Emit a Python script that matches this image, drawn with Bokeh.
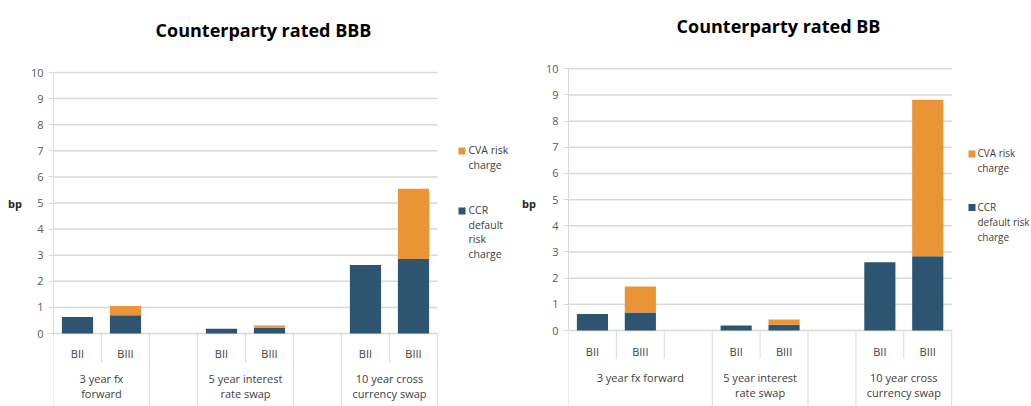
from bokeh.plotting import figure
from bokeh.layouts import row
from bokeh.models import Range1d, FixedTicker, ColumnDataSource
from bokeh.core.properties import value
from bokeh.embed import file_html
from bokeh.resources import INLINE

# ---------------- data ----------------
sub_labels = ["BII", "BIII", "", "BII", "BIII", "", "BII", "BIII"]
series_names = ["CCR\ndefault\nrisk\ncharge", "CVA risk\ncharge"]
series_names_bb = ["CCR\ndefault risk\ncharge", "CVA risk\ncharge"]

bbb_groups = ["3 year fx\nforward", "", "5 year interest\nrate swap", "", "10 year cross\ncurrency swap"]
bbb_group_spans = [2, 1, 2, 1, 2]
bbb_ccr = [0.63, 0.70, 0.0, 0.18, 0.22, 0.0, 2.62, 2.85]
bbb_cva = [0.0, 0.35, 0.0, 0.0, 0.09, 0.0, 0.0, 2.70]

bb_groups = ["3 year fx forward", "5 year interest\nrate swap", "", "10 year cross\ncurrency swap"]
bb_group_spans = [3, 2, 1, 2]
bb_ccr = [0.63, 0.69, 0.0, 0.19, 0.22, 0.0, 2.61, 2.84]
bb_cva = [0.0, 0.99, 0.0, 0.0, 0.20, 0.0, 0.0, 5.98]

y_ticks = list(range(0, 11))

# ---------------- style ----------------
NAVY = "#2D5572"
ORANGE = "#EA9438"
GRID = "#D9D9D9"
TXT = "#404040"
FONT = "Open Sans"
FIG_H = 406


def make_chart(title, groups, spans, ccr, cva, names, L):
    fig_w = L["fig_w"]
    border_left = L["axis_x"] - L["fig_x"]
    frame_w = fig_w - border_left
    slot = L["slot"]
    unit = L["unit"]
    zero = L["zero_y"]
    top_page = 0
    bottom_page = FIG_H

    x_end = frame_w / slot
    y_end = (zero - top_page) / unit
    y_start = -(bottom_page - zero) / unit

    def dx(px):
        return (px - L["axis_x"]) / slot

    def dy(py):
        return (zero - py) / unit

    p = figure(width=fig_w, height=FIG_H, output_backend="svg", toolbar_location=None,
               x_range=Range1d(0, x_end), y_range=Range1d(y_start, y_end),
               x_axis_location=None, y_axis_location="left",
               min_border_left=border_left, min_border_right=0,
               min_border_top=0, min_border_bottom=0)
    p.outline_line_color = None
    p.grid.visible = False

    # y axis
    ax = p.yaxis[0]
    ax.ticker = FixedTicker(ticks=y_ticks)
    ax.bounds = (0, 10)
    ax.axis_line_color = GRID
    ax.major_tick_line_color = GRID
    ax.major_tick_out = 5
    ax.major_tick_in = 0
    ax.minor_tick_line_color = None
    ax.major_label_standoff = 5
    ax.major_label_text_font = FONT
    ax.major_label_text_font_size = "11px"
    ax.major_label_text_color = "#595959"
    ax.axis_label = "bp"
    ax.axis_label_orientation = "horizontal"
    ax.axis_label_standoff = L["lab_standoff"]
    ax.axis_label_text_font = FONT
    ax.axis_label_text_font_style = "bold"
    ax.axis_label_text_font_size = "11px"
    ax.axis_label_text_color = "#262626"

    n = len(ccr)
    # gridlines (value levels) across the category area
    p.segment(x0=[0] * len(y_ticks), x1=[n] * len(y_ticks), y0=y_ticks, y1=y_ticks,
              line_color=GRID, line_width=1.5)

    # stacked bars
    src = ColumnDataSource(dict(x=[i + 0.5 for i in range(n)], ccr=ccr, cva=cva))
    p.vbar_stack(["ccr", "cva"], x="x", width=0.65, source=src,
                 color=[NAVY, ORANGE], line_color=None)

    # category axis separators
    long_x = [0]
    short_x = []
    pos = 0
    for s in spans:
        for k in range(1, s):
            short_x.append(pos + k)
        pos += s
        long_x.append(pos)
    short_bottom = dy(L["short_end"])
    p.segment(x0=short_x, x1=short_x, y0=[0] * len(short_x), y1=[short_bottom] * len(short_x),
              line_color=GRID, line_width=1)
    p.segment(x0=long_x, x1=long_x, y0=[0] * len(long_x), y1=[y_start] * len(long_x),
              line_color=GRID, line_width=1)

    # sub-category labels
    p.text(x=[i + 0.5 for i in range(n)], y=[dy(L["sub_y"])] * n, text=sub_labels,
           text_align="center", text_baseline="middle", text_font=value(FONT),
           text_font_size="11px", text_color=TXT)

    # group labels
    gx = []
    pos = 0
    for s in spans:
        gx.append(pos + s / 2)
        pos += s
    p.text(x=gx, y=[dy(L["grp_top"])] * len(gx), text=groups,
           text_align="center", text_baseline="top", text_font=value(FONT),
           text_font_size="11px", text_color=TXT, text_line_height=1.0)

    # title
    p.text(x=[dx(L["title_x"])], y=[dy(L["title_y"])], text=[title],
           text_align="center", text_baseline="middle", text_font=value(FONT),
           text_font_size="18px", text_font_style="bold", text_color="#000000")

    # legend (top item: CVA, bottom item: CCR)
    leg_sq_x = dx(L["leg_sq_x"])
    p.rect(x=[leg_sq_x, leg_sq_x], y=[dy(L["leg_cva_y"]), dy(L["leg_ccr_y"])],
           width=7, height=7, width_units="screen", height_units="screen",
           color=[ORANGE, NAVY], line_color=None)
    p.text(x=[dx(L["leg_txt_x"])] * 2,
           y=[dy(L["leg_cva_y"] - 8), dy(L["leg_ccr_y"] - 8)],
           text=[names[1], names[0]], text_align="left", text_baseline="top",
           text_font=value(FONT), text_font_size=L["leg_fs"], text_color=TXT,
           text_line_height=L["leg_lh"])
    return p


L_bbb = dict(fig_x=0, fig_w=515, axis_x=53, slot=48.0, unit=26.1, zero_y=333,
             lab_standoff=6, short_end=362, sub_y=353, grp_top=370,
             title_x=263, title_y=29, leg_sq_x=461.5, leg_cva_y=150.5,
             leg_ccr_y=210.5, leg_txt_x=468, leg_fs="10.5px", leg_lh=1.05)
L_bb = dict(fig_x=515, fig_w=516, axis_x=568, slot=47.9, unit=26.17, zero_y=330,
            lab_standoff=7, short_end=358, sub_y=351, grp_top=369,
            title_x=778, title_y=25, leg_sq_x=971.5, leg_cva_y=153.5,
            leg_ccr_y=207, leg_txt_x=977, leg_fs="10px", leg_lh=1.1)

p1 = make_chart("Counterparty rated BBB", bbb_groups, bbb_group_spans, bbb_ccr, bbb_cva,
                series_names, L_bbb)
p2 = make_chart("Counterparty rated BB", bb_groups, bb_group_spans, bb_ccr, bb_cva,
                series_names_bb, L_bb)

layout = row(p1, p2)
open("out.html", "w").write(file_html(layout, INLINE))
